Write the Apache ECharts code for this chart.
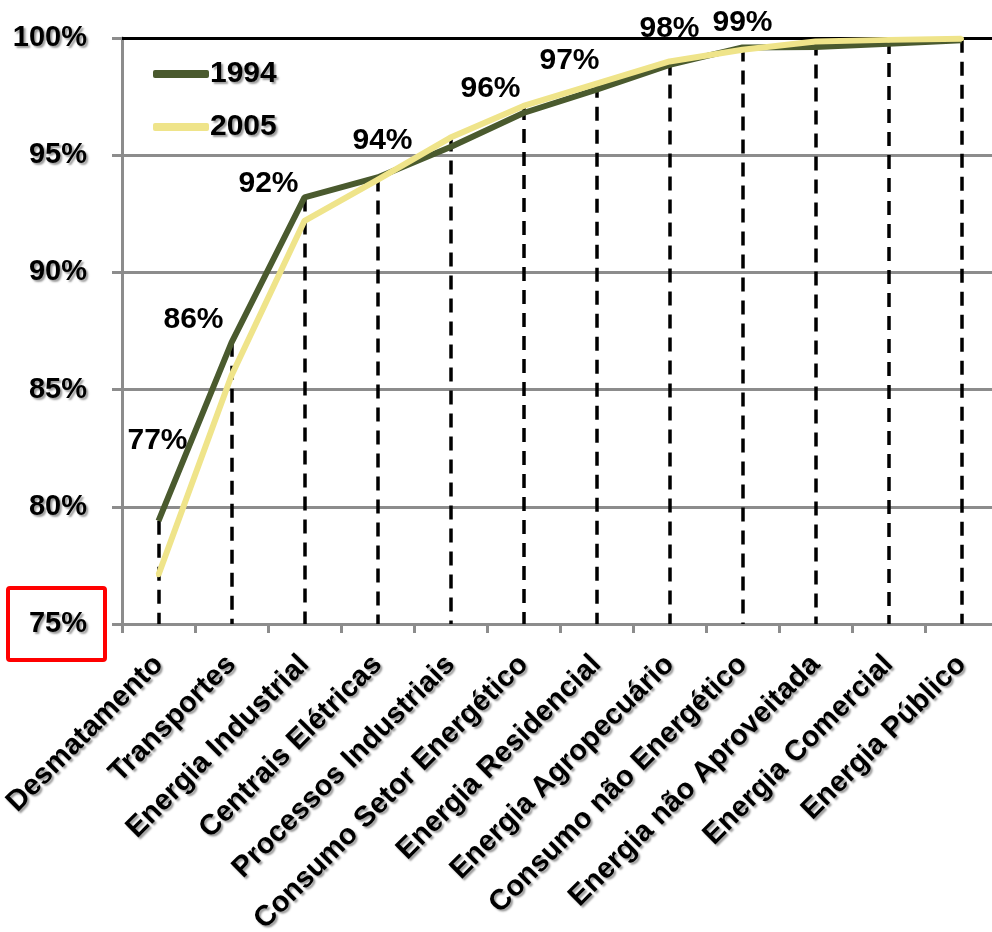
<!DOCTYPE html>
<html>
<head>
<meta charset="utf-8">
<script src="https://cdn.jsdelivr.net/npm/echarts@6/dist/echarts.min.js"></script>
<style>
  html, body { margin: 0; padding: 0; background: #ffffff; }
  #chart { width: 992px; height: 932px; }
</style>
</head>
<body>
<div id="chart"></div>
<script>
// ---- data ----
var categories = ['Desmatamento', 'Transportes', 'Energia Industrial', 'Centrais Elétricas',
  'Processos Industriais', 'Consumo Setor Energético', 'Energia Residencial',
  'Energia Agropecuário', 'Consumo não Energético', 'Energia não Aproveitada',
  'Energia Comercial', 'Energia Público'];
var values1994 = [79.4, 87.0, 93.2, 94.05, 95.35, 96.8, 97.8, 98.85, 99.6, 99.62, 99.75, 99.9];
var values2005 = [77.1, 85.6, 92.2, 93.95, 95.75, 97.1, 98.05, 99.0, 99.5, 99.85, 99.92, 99.97];
var seriesNames = ['1994', '2005'];
var yMin = 75, yMax = 100, yStep = 5;

// ---- styling (not data) ----
var labelCount = 8;  // 2005 values labelled for the first categories
var labelOffsets = [[-1, -134], [-38, -56], [-36, -37], [5, -39], [40, -49], [46, -45], [73, -55], [73, -39]];
var darkColor = '#4a5a2e';
var lightColor = '#efe48a';
var gridGray = '#8c8c8c';
var boldShadow = { textShadowColor: 'rgba(0,0,0,0.4)', textShadowBlur: 2, textShadowOffsetX: 2, textShadowOffsetY: 2 };

var dropLines = categories.map(function (c, i) {
  var top = Math.max(values1994[i], values2005[i]);
  return [{ coord: [i, top] }, { coord: [i, yMin] }];
});

var data2005 = values2005.map(function (v, i) {
  if (i < labelCount) {
    return {
      value: v,
      label: {
        show: true,
        position: 'inside',
        offset: labelOffsets[i],
        formatter: Math.round(v) + '%',
        fontFamily: 'Liberation Sans, Arial, sans-serif',
        fontSize: 30,
        fontWeight: 'bold',
        color: '#000'
      }
    };
  }
  return { value: v };
});

var chart = echarts.init(document.getElementById('chart'), null, { renderer: 'canvas' });
var option = {
  backgroundColor: '#ffffff',
  animation: false,
  textStyle: { fontFamily: 'Liberation Sans, Arial, sans-serif' },
  grid: { left: 122, top: 38, width: 876, height: 586, containLabel: false, outerBoundsMode: 'none' },
  legend: {
    orient: 'vertical',
    left: 148,
    top: 54,
    itemGap: 23,
    itemWidth: 56,
    itemHeight: 8,
    icon: 'roundRect',
    data: [
      { name: seriesNames[0], itemStyle: { color: darkColor, opacity: 1 } },
      { name: seriesNames[1], itemStyle: { color: lightColor, opacity: 1 } }
    ],
    textStyle: Object.assign({ fontSize: 30, fontWeight: 'bold', color: '#000', lineHeight: 30, padding: [0, 0, 0, -4] }, boldShadow)
  },
  xAxis: [{
    type: 'category',
    data: categories,
    boundaryGap: true,
    axisLine: { show: true, lineStyle: { color: gridGray, width: 3 } },
    axisTick: { show: true, alignWithLabel: false, length: 9, lineStyle: { color: gridGray, width: 3 } },
    axisLabel: Object.assign({
      rotate: 45,
      interval: 0,
      margin: 36,
      fontSize: 29,
      fontWeight: 'bold',
      color: '#000'
    }, boldShadow),
    splitLine: { show: false }
  }, {
    type: 'category',
    position: 'top',
    data: categories,
    axisLine: { show: true, lineStyle: { color: '#000', width: 3 } },
    axisTick: { show: false },
    axisLabel: { show: false }
  }],
  yAxis: {
    type: 'value',
    min: yMin,
    max: yMax,
    interval: yStep,
    axisLine: { show: true, lineStyle: { color: gridGray, width: 3 } },
    axisTick: { show: true, length: 10, lineStyle: { color: gridGray, width: 3 } },
    axisLabel: Object.assign({
      formatter: '{value}%',
      margin: 35,
      fontSize: 29,
      fontWeight: 'bold',
      color: '#000'
    }, boldShadow),
    splitLine: { show: true, lineStyle: { color: gridGray, width: 3 } }
  },
  series: [{
    name: seriesNames[0],
    type: 'line',
    data: values1994,
    showSymbol: false,
    symbol: 'none',
    color: darkColor,
    lineStyle: { color: darkColor, width: 6 },
    z: 3,
    markLine: {
      silent: true,
      symbol: ['none', 'none'],
      label: { show: false },
      lineStyle: { color: '#000', width: 3.5, type: [14, 9] },
      data: dropLines,
      z: 2
    }
  }, {
    name: seriesNames[1],
    type: 'line',
    data: data2005,
    showSymbol: true,
    showAllSymbol: true,
    symbol: 'circle',
    symbolSize: 5,
    itemStyle: { color: lightColor, borderWidth: 0 },
    color: lightColor,
    lineStyle: { color: lightColor, width: 6 },
    z: 4
  }]
};
chart.setOption(option);

// red highlight box around the minimum y-axis label (annotation)
var yPix = chart.convertToPixel({ yAxisIndex: 0 }, yMin);
chart.setOption({
  graphic: [{
    type: 'rect',
    shape: { x: 8, y: yPix - 36, width: 97, height: 72, r: 2 },
    style: { fill: 'none', stroke: '#ff0000', lineWidth: 4 },
    z: 10
  }]
});
</script>
</body>
</html>
